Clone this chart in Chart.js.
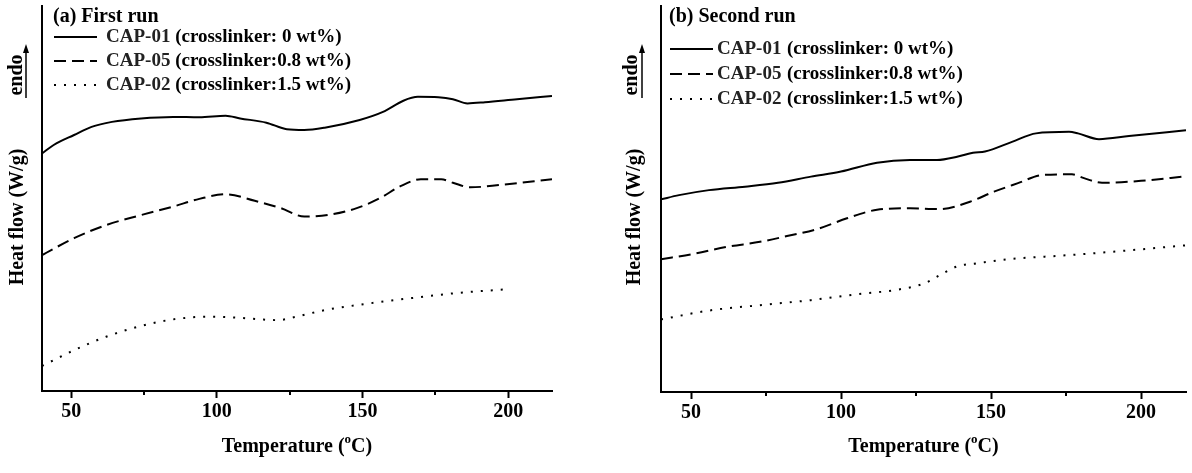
<!DOCTYPE html>
<html>
<head>
<meta charset="utf-8">
<script src="https://cdn.jsdelivr.net/npm/chart.js@4.4.0/dist/chart.umd.min.js"></script>
<style>
  html, body { margin: 0; padding: 0; background: #fff; }
  #wrap { position: relative; width: 1192px; height: 473px; }
  .panel { position: absolute; top: 0; width: 596px; height: 473px; }
</style>
</head>
<body>
<div id="wrap">
  <div class="panel" style="left:0"><canvas id="firstRun"></canvas></div>
  <div class="panel" style="left:596px"><canvas id="secondRun"></canvas></div>
</div>
<script>
// Series labels
const seriesNames = ['CAP-01', 'CAP-05', 'CAP-02']
const seriesNotes = ['(crosslinker: 0 wt%)', '(crosslinker:0.8 wt%)', '(crosslinker:1.5 wt%)']

// Temperature axis (°C)
const tempMin = 40
const tempMax = 215
const majorTicks = [50, 100, 150, 200]
const minorTicks = [75, 125, 175]

// (a) First run - heat flow in arbitrary units (endo up)
const firstTempCap01 = [40, 44, 51, 57, 64, 74, 85, 94, 103, 108, 117, 124, 130, 137, 149, 157, 164, 169, 176, 181, 186, 192, 203, 215]
const firstFlowCap01 = [61.7, 63.9, 66.5, 68.6, 69.9, 70.8, 71.2, 71.1, 71.5, 70.8, 69.7, 68.0, 67.8, 68.4, 70.4, 72.5, 75.4, 76.4, 76.3, 75.8, 74.7, 75.0, 75.8, 76.6]
const firstTempCap05 = [40, 51, 62, 74, 85, 94, 103, 113, 122, 130, 138, 148, 156, 163, 170, 177, 181, 187, 197, 215]
const firstFlowCap05 = [35.3, 39.7, 43.1, 45.7, 47.9, 49.9, 51.1, 49.4, 47.5, 45.3, 45.7, 47.5, 50.1, 53.2, 55.0, 55.0, 54.1, 52.9, 53.5, 55.0]
const firstTempCap02 = [40, 51, 62, 74, 85, 97, 106, 115, 121, 126, 137, 148, 160, 171, 183, 199]
const firstFlowCap02 = [6.5, 10.6, 14.1, 16.9, 18.6, 19.3, 19.1, 18.6, 18.4, 19.1, 21.0, 22.3, 23.5, 24.5, 25.5, 26.4]

// (b) Second run
const secondTempCap01 = [40, 46, 56, 68, 79, 90, 100, 112, 123, 132, 139, 144, 148, 157, 165, 176, 179, 186, 196, 215]
const secondFlowCap01 = [49.9, 51.0, 52.3, 53.2, 54.2, 55.8, 57.1, 59.4, 60.1, 60.1, 61.0, 62.0, 62.3, 64.8, 67.0, 67.4, 67.0, 65.5, 66.3, 67.8]
const secondTempCap05 = [40, 51, 62, 73, 82, 92, 102, 112, 123, 133, 143, 151, 159, 167, 177, 181, 187, 200, 215]
const secondFlowCap05 = [34.4, 35.8, 37.6, 38.9, 40.4, 42.2, 45.0, 47.2, 47.6, 47.4, 49.3, 51.9, 54.1, 56.2, 56.4, 55.4, 54.2, 54.7, 55.9]
const secondTempCap02 = [40, 56, 73, 90, 106, 118, 128, 133, 139, 145, 157, 173, 190, 215]
const secondFlowCap02 = [18.8, 21.1, 22.5, 23.8, 25.4, 26.4, 28.2, 30.3, 32.6, 33.3, 34.5, 35.3, 36.3, 38.0]

const FONT = '"Liberation Serif", "Times New Roman", serif'
const lineStyles = [
  { borderDash: [] },
  { borderDash: [12, 6] },
  { borderDash: [2, 8] }
]

const toPoints = (xs, ys) => xs.map((x, i) => ({ x: x, y: ys[i] }))

function buildDatasets(temps, flows) {
  return temps.map((t, i) => ({
    label: seriesNames[i],
    data: toPoints(t, flows[i]),
    borderColor: '#000',
    borderWidth: 2,
    borderDash: lineStyles[i].borderDash,
    pointRadius: 0,
    cubicInterpolationMode: 'monotone',
    fill: false
  }))
}

// Draws panel title, legend, "endo" arrow, axis titles and minor ticks
const decorPlugin = {
  id: 'decor',
  afterDraw(chart, args, opts) {
    const ctx = chart.ctx
    const xs = chart.scales.x
    const area = chart.chartArea
    ctx.save()

    // minor ticks
    ctx.strokeStyle = '#000'
    ctx.lineWidth = 2
    minorTicks.forEach(v => {
      const px = Math.round(xs.getPixelForValue(v))
      ctx.beginPath()
      ctx.moveTo(px, area.bottom)
      ctx.lineTo(px, area.bottom + 4)
      ctx.stroke()
    })

    ctx.fillStyle = '#000'
    ctx.textBaseline = 'middle'
    ctx.textAlign = 'left'

    // panel title
    ctx.font = 'bold 20px ' + FONT
    ctx.fillText(opts.title, opts.titleX, opts.titleY)

    // legend
    chart.data.datasets.forEach((ds, i) => {
      const y = opts.rowsY[i]
      ctx.save()
      ctx.lineWidth = ds.borderWidth
      ctx.setLineDash(ds.borderDash)
      ctx.beginPath()
      ctx.moveTo(opts.lineX0, y)
      ctx.lineTo(opts.lineX1, y)
      ctx.stroke()
      ctx.restore()
      ctx.font = 'bold 19px ' + FONT
      ctx.fillStyle = '#222'
      ctx.fillText(ds.label, opts.textX, y)
      const noteX = opts.noteX || opts.textX + ctx.measureText(ds.label + ' ').width
      ctx.fillStyle = '#000'
      ctx.fillText(seriesNotes[i], noteX, y)
    })

    // endo arrow
    ctx.fillStyle = '#000'
    ctx.save()
    ctx.translate(opts.endoX, 75)
    ctx.rotate(-Math.PI / 2)
    ctx.textAlign = 'center'
    ctx.font = 'bold 20px ' + FONT
    ctx.fillText('endo', 0, 0)
    ctx.restore()
    ctx.lineWidth = 1.5
    ctx.beginPath()
    ctx.moveTo(opts.arrowX, 98)
    ctx.lineTo(opts.arrowX, 50)
    ctx.stroke()
    ctx.beginPath()
    ctx.moveTo(opts.arrowX, 44)
    ctx.lineTo(opts.arrowX - 3, 53)
    ctx.lineTo(opts.arrowX + 3, 53)
    ctx.closePath()
    ctx.fill()

    // y title
    ctx.save()
    ctx.translate(opts.yTitleX, 217)
    ctx.rotate(-Math.PI / 2)
    ctx.textAlign = 'center'
    ctx.font = 'bold 20px ' + FONT
    ctx.fillText('Heat flow (W/g)', 0, 0)
    ctx.restore()

    // x title with superscript degree "o"
    const big = 'bold 20px ' + FONT
    const small = 'bold 13px ' + FONT
    const partA = 'Temperature ('
    const partB = 'o'
    const partC = 'C)'
    ctx.font = big
    const wA = ctx.measureText(partA).width
    const wC = ctx.measureText(partC).width
    ctx.font = small
    const wB = ctx.measureText(partB).width
    let x = (area.left + area.right) / 2 - (wA + wB + wC) / 2
    const y = 447
    ctx.font = big
    ctx.fillText(partA, x, y)
    x += wA
    ctx.font = small
    ctx.fillText(partB, x, y - 7)
    x += wB
    ctx.font = big
    ctx.fillText(partC, x, y)

    ctx.restore()
  }
}

function makeChart(id, datasets, areaLeft, areaRight, areaBottom, decor) {
  const ctx = document.getElementById(id).getContext('2d')
  return new Chart(ctx, {
    type: 'line',
    data: { datasets: datasets },
    plugins: [decorPlugin],
    options: {
      responsive: true,
      maintainAspectRatio: false,
      animation: false,
      layout: { padding: { top: 6, right: 596 - areaRight, bottom: 0, left: 0 } },
      plugins: {
        legend: { display: false },
        tooltip: { enabled: false },
        decor: decor
      },
      scales: {
        x: {
          type: 'linear',
          min: tempMin,
          max: tempMax,
          afterBuildTicks: scale => { scale.ticks = majorTicks.map(v => ({ value: v })) },
          afterFit: scale => { scale.height = 473 - areaBottom },
          grid: {
            display: true,
            drawOnChartArea: false,
            drawTicks: true,
            tickLength: 7,
            tickWidth: 2,
            tickColor: '#000'
          },
          border: { display: true, color: '#000', width: 2 },
          ticks: {
            padding: 2,
            color: '#000',
            font: { family: FONT, size: 20, weight: 'bold' }
          },
          title: { display: false }
        },
        y: {
          min: 0,
          max: 100,
          afterFit: scale => { scale.width = areaLeft },
          grid: { display: false },
          border: { display: true, color: '#000', width: 2 },
          ticks: { display: false },
          title: { display: false }
        }
      }
    }
  })
}

makeChart('firstRun',
  buildDatasets([firstTempCap01, firstTempCap05, firstTempCap02], [firstFlowCap01, firstFlowCap05, firstFlowCap02]),
  42, 552, 391,
  {
    title: '(a) First run', titleX: 53, titleY: 17,
    rowsY: [37, 61, 85], lineX0: 54, lineX1: 97, textX: 106, noteX: null,
    endoX: 17, arrowX: 26, yTitleX: 18
  })

makeChart('secondRun',
  buildDatasets([secondTempCap01, secondTempCap05, secondTempCap02], [secondFlowCap01, secondFlowCap05, secondFlowCap02]),
  65, 590, 392,
  {
    title: '(b) Second run', titleX: 73, titleY: 17,
    rowsY: [49, 74, 99], lineX0: 74, lineX1: 117, textX: 121, noteX: 191,
    endoX: 36, arrowX: 46, yTitleX: 39
  })
</script>
</body>
</html>
